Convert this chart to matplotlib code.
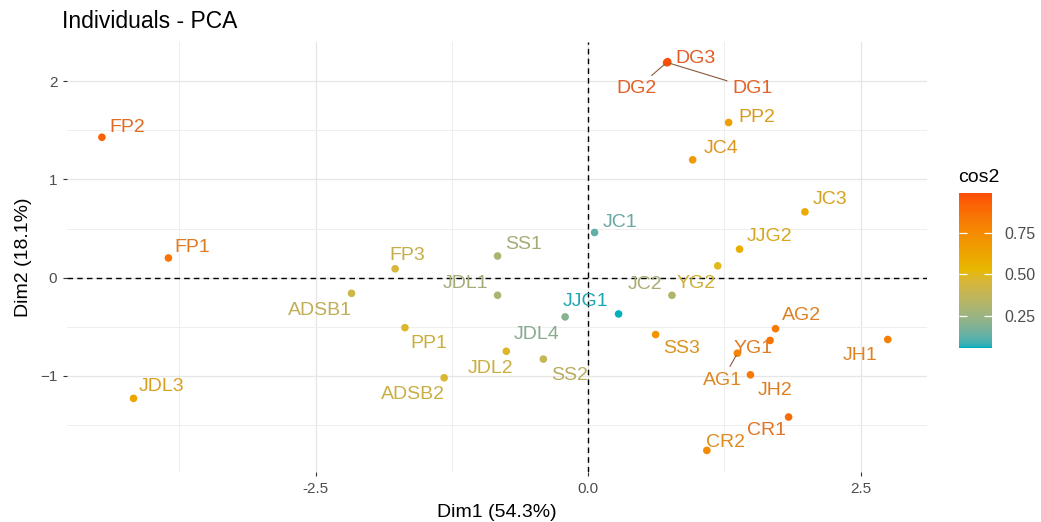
import numpy as np
import matplotlib
matplotlib.use("Agg")
import matplotlib.pyplot as plt
from matplotlib.colors import ListedColormap, Normalize
from matplotlib.cm import ScalarMappable

plt.rcParams['font.family'] = ['Liberation Sans', 'DejaVu Sans']

# PCA individuals
names = ['FP2', 'FP1', 'JDL3', 'ADSB1', 'FP3', 'SS1', 'JDL1', 'PP1', 'ADSB2',
         'JDL2', 'SS2', 'JDL4', 'JJG1', 'JC1', 'JC2', 'YG2', 'SS3',
         'DG1', 'DG2', 'DG3', 'PP2', 'JC4', 'JC3', 'JJG2', 'AG2', 'YG1',
         'AG1', 'JH2', 'JH1', 'CR1', 'CR2']
dim1 = [-4.46, -3.85, -4.17, -2.17, -1.77, -0.83, -0.83, -1.68, -1.32,
        -0.75, -0.41, -0.21, 0.28, 0.06, 0.77, 1.19, 0.62,
        0.73, 0.72, 0.73, 1.29, 0.96, 1.99, 1.39, 1.72, 1.67,
        1.37, 1.49, 2.75, 1.84, 1.09]
dim2 = [1.43, 0.20, -1.23, -0.16, 0.09, 0.22, -0.18, -0.51, -1.02,
        -0.75, -0.83, -0.40, -0.37, 0.46, -0.18, 0.12, -0.58,
        2.19, 2.19, 2.20, 1.58, 1.20, 0.67, 0.29, -0.52, -0.64,
        -0.77, -0.99, -0.63, -1.42, -1.76]
cos2 = [0.92, 0.85, 0.62, 0.42, 0.45, 0.30, 0.30, 0.48, 0.47,
        0.48, 0.38, 0.20, 0.054, 0.12, 0.32, 0.50, 0.70,
        0.96, 0.97, 0.989, 0.65, 0.68, 0.60, 0.57, 0.82, 0.85,
        0.78, 0.83, 0.80, 0.88, 0.75]

# label placement (pixel offsets from the point, like ggrepel put them)
label_dx = [25, 24, 28, -32, 12, 26, -32, 24, -31,
            -16, 26, -29, -33, 25, -27, -22, 26,
            85, -30, 28, 28, 28, 25, 30, 26, -17,
            -15, 25, -28, -22, 19]
label_dy = [10, 10, 12, -17, 13, 12, 12, -16, -17,
            -17, -16, -18, 12, 10, 11, -18, -14,
            -26, -26, 3, 5, 11, 12, 13, 13, -8,
            -27, -16, -16, -13, 8]
with_segment = ['DG1', 'DG2', 'AG1']

grad_cols = ['#00AFBB', '#E7B800', '#FC4E07']


# ggplot interpolates gradients in CIELAB, do the same
def srgb_to_lab(rgb):
    rgb = np.asarray(rgb, float)
    c = np.where(rgb <= 0.04045, rgb / 12.92, ((rgb + 0.055) / 1.055) ** 2.4)
    M = np.array([[0.4124, 0.3576, 0.1805],
                  [0.2126, 0.7152, 0.0722],
                  [0.0193, 0.1192, 0.9505]])
    xyz = c @ M.T / np.array([0.95047, 1.0, 1.08883])
    f = np.where(xyz > 0.008856, np.cbrt(xyz), 7.787 * xyz + 16 / 116)
    return np.stack([116 * f[..., 1] - 16,
                     500 * (f[..., 0] - f[..., 1]),
                     200 * (f[..., 1] - f[..., 2])], axis=-1)


def lab_to_srgb(lab):
    L, a, b = lab[..., 0], lab[..., 1], lab[..., 2]
    fy = (L + 16) / 116
    fx = fy + a / 500
    fz = fy - b / 200
    f = np.stack([fx, fy, fz], axis=-1)
    xyz = np.where(f ** 3 > 0.008856, f ** 3, (f - 16 / 116) / 7.787)
    xyz = xyz * np.array([0.95047, 1.0, 1.08883])
    Minv = np.array([[3.2406, -1.5372, -0.4986],
                     [-0.9689, 1.8758, 0.0415],
                     [0.0557, -0.2040, 1.0570]])
    c = xyz @ Minv.T
    c = np.clip(c, 0, 1)
    return np.where(c <= 0.0031308, 12.92 * c, 1.055 * c ** (1 / 2.4) - 0.055)


anchors = srgb_to_lab([matplotlib.colors.to_rgb(c) for c in grad_cols])
t = np.linspace(0, 1, 256)
pos = np.linspace(0, 1, len(grad_cols))
lab = np.stack([np.interp(t, pos, anchors[:, k]) for k in range(3)], axis=-1)
cmap = ListedColormap(np.clip(lab_to_srgb(lab), 0, 1))
norm = Normalize(vmin=min(cos2), vmax=max(cos2))

fig = plt.figure(figsize=(10.41, 5.22), dpi=100)
ax = fig.add_axes([0.0644, 0.0958, 0.8261, 0.8237])

ax.set_xlim(-4.78, 3.11)
ax.set_ylim(-1.98, 2.40)
ax.set_xticks([-2.5, 0, 2.5])
ax.set_xticklabels(['-2.5', '0.0', '2.5'])
ax.set_xticks([-3.75, -1.25, 1.25], minor=True)
ax.set_yticks([-1, 0, 1, 2])
ax.set_yticks([-1.5, -0.5, 0.5, 1.5], minor=True)
ax.grid(which='major', color='#E6E6E6', linewidth=0.9)
ax.grid(which='minor', color='#EEEEEE', linewidth=0.7)
ax.set_axisbelow(True)
for sp in ax.spines.values():
    sp.set_visible(False)
ax.tick_params(which='major', length=3, width=0.8, color='#333333',
               labelsize=11, labelcolor='#4D4D4D', pad=4)
ax.tick_params(which='minor', length=0)

ax.axhline(0, color='black', linestyle=(0, (4, 3)), linewidth=1.0, zorder=1)
ax.axvline(0, color='black', linestyle=(0, (4, 3)), linewidth=1.0, zorder=1)

colors = cmap(norm(np.array(cos2)))
ax.scatter(dim1, dim2, c=colors, s=30, edgecolors='none', zorder=3)

# text looks a bit duller than the dots in the original
grey = np.array([0.55, 0.55, 0.55, 1.0])
text_colors = 0.78 * colors + 0.22 * grey

for i, nm in enumerate(names):
    kw = dict(textcoords='offset pixels', ha='center', va='center',
              color=text_colors[i], fontsize=14, zorder=4)
    if nm in with_segment:
        kw['arrowprops'] = dict(arrowstyle='-', color='#8B5A3C', lw=0.8,
                                shrinkA=2, shrinkB=2)
    ax.annotate(nm, (dim1[i], dim2[i]), xytext=(label_dx[i], label_dy[i]), **kw)

ax.set_xlabel('Dim1 (54.3%)', fontsize=14, color='black', labelpad=6)
ax.set_ylabel('Dim2 (18.1%)', fontsize=14, color='black', labelpad=6)
fig.text(62 / 1041, 1 - 28 / 522, 'Individuals - PCA', fontsize=16.5,
         ha='left', va='baseline')

# colour bar
cax = fig.add_axes([959 / 1041, 1 - 348 / 522, 33 / 1041, 155 / 522])
sm = ScalarMappable(norm=norm, cmap=cmap)
cb = fig.colorbar(sm, cax=cax, ticks=[0.25, 0.5, 0.75])
cb.outline.set_visible(False)
cb.ax.set_yticklabels(['0.25', '0.50', '0.75'])
cb.ax.tick_params(left=True, right=True, direction='in', color='white',
                  length=6, width=0.9, labelsize=11.5, labelcolor='#4D4D4D',
                  pad=9)
fig.text(958 / 1041, 1 - 177 / 522, 'cos2', fontsize=14, ha='left', va='center')

fig.savefig('out.png', dpi=100)
